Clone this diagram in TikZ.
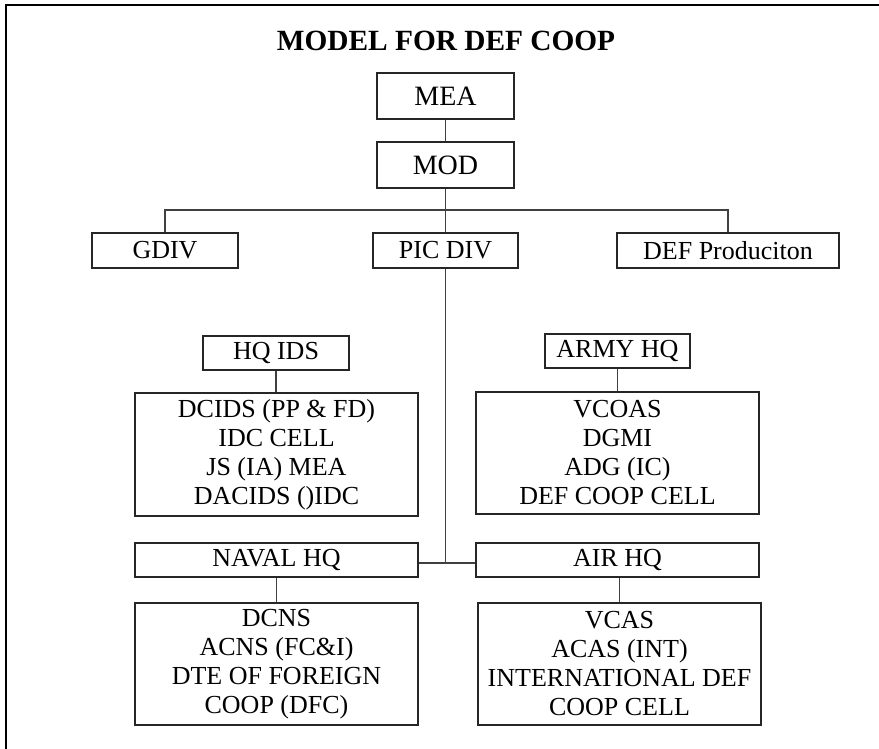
\documentclass[tikz,border=0pt]{standalone}
\usepackage{fontspec}
\setmainfont{Liberation Serif}
\begin{document}
\begin{tikzpicture}[x=0.75pt,y=-0.75pt,
  box/.style={draw=black!85,line width=1.1pt,inner sep=0pt,align=center,
    font=\fontsize{19.5}{21.75}\selectfont},
  bigbox/.style={box,font=\fontsize{21}{24}\selectfont},
  sz/.style 2 args={minimum width=#1*0.75pt,minimum height=#2*0.75pt},
  link/.style={draw=black!75,line width=1.2pt},
  frame/.style={draw=black,line width=1.5pt}]
\useasboundingbox (0,0) rectangle (879,749);

% page frame (top and left edges)
\coordinate (ftl) at (6,5);
\coordinate (ftr) at (879,5);
\coordinate (fbl) at (6,749);
\draw[frame] (ftr) -- (ftl) -- (fbl);

% title
\node[font=\bfseries\fontsize{22}{25}\selectfont] (title) at (446,41) {MODEL FOR DEF COOP};

% ministries
\node[bigbox,sz={137}{46}] (mea) at (445.5,96) {MEA};
\node[bigbox,sz={137}{46}] (mod) at (445.5,165) {MOD};

% divisions
\node[box,sz={146}{35}] (gdiv) at (165,250.5) {GDIV};
\node[box,sz={145}{35}] (pic) at (445.5,250.5) {PIC DIV};
\node[box,sz={222}{35}] (defp) at (728,250.5) {DEF Produciton};

% headquarters
\node[box,sz={146}{34}] (hqids) at (276,353) {HQ IDS};
\node[box,sz={145}{34}] (army) at (617.5,351) {ARMY HQ};
\node[box,sz={283}{123}] (idsc) at (276.5,454.5)
  {DCIDS (PP \& FD)\\IDC CELL\\JS (IA) MEA\\DACIDS ()IDC};
\node[box,sz={283}{122}] (armyc) at (617.5,453)
  {VCOAS\\DGMI\\ADG (IC)\\DEF COOP CELL};

\node[box,sz={283}{34}] (naval) at (276.5,560) {NAVAL HQ};
\node[box,sz={283}{34}] (air) at (617.5,560) {AIR HQ};
\node[box,sz={283}{122}] (navalc) at (276.5,664)
  {DCNS\\ACNS (FC\&I)\\DTE OF FOREIGN\\COOP (DFC)};
\node[box,sz={283}{122}] (airc) at (619.5,664)
  {VCAS\\ACAS (INT)\\INTERNATIONAL DEF\\COOP CELL};

% connectors
\coordinate (bus) at (445.5,210);
\coordinate (junc) at (445.5,563);
\draw[link] (mea) -- (mod);
\draw[link] (mod) -- (pic);
\draw[link] (gdiv.north) |- (bus) -| (defp.north);
\draw[link] (pic) -- (junc);
\draw[link] (naval.east |- junc) -- (air.west |- junc);
\draw[link] (hqids) -- (hqids |- idsc.north);
\draw[link] (army) -- (army |- armyc.north);
\draw[link] (naval) -- (naval |- navalc.north);
\draw[link] (air.south -| airc.north) -- (airc.north);
\end{tikzpicture}
\end{document}
